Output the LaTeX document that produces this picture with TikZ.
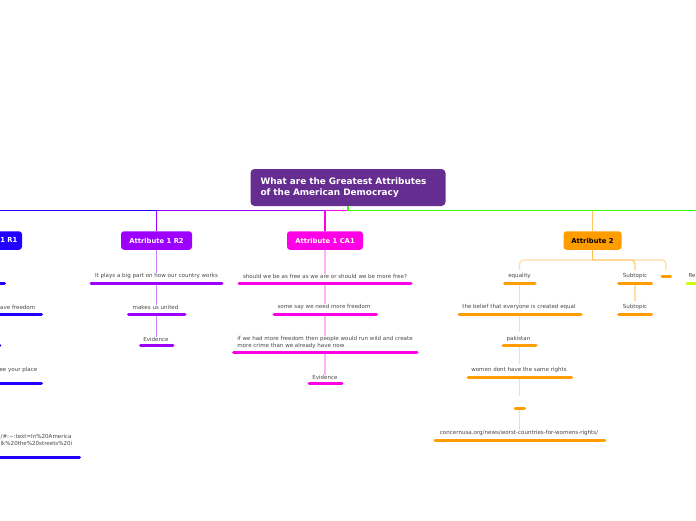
\documentclass[tikz,border=0pt]{standalone}
\usepackage{fontspec}
\setmainfont{DejaVu Sans}
\definecolor{cmain}{HTML}{662D91}
\definecolor{cblue}{HTML}{2200FF}
\definecolor{cpurple}{HTML}{9D00FF}
\definecolor{cmag}{HTML}{FF00E6}
\definecolor{corange}{HTML}{FF9D00}
\definecolor{cgreen}{HTML}{33FF00}
\definecolor{clime}{HTML}{CCFF00}
\tikzset{
  mainbox/.style={draw=none,fill=cmain,rounded corners=4pt,minimum width=195pt,minimum height=37pt,text=white,font=\bfseries\fontsize{8.9}{11.2}\selectfont,align=left,text width=175pt},
  attr/.style={rounded corners=3pt,minimum height=18.5pt,font=\bfseries\fontsize{6.8}{8}\selectfont,inner sep=0pt},
  lbl/.style={font=\fontsize{5.55}{6.7}\selectfont,text=black!72,inner sep=0pt},
  bar/.style={line width=3pt,line cap=round},
  lnk/.style={line width=1.3pt},
  top/.style={line width=1.1pt},
}
\begin{document}
\begin{tikzpicture}[x=1pt,y=-1pt]
\useasboundingbox (0,0) rectangle (696,520);
\clip (0,0) rectangle (696,520);
% hub
\node[mainbox] (root) at (348,187.5) {What are the Greatest Attributes\\of the American Democracy};
\coordinate (j) at (348,210.5);
\coordinate (lend) at (0,210.5);
\coordinate (rend) at (696,210.5);
\coordinate (j2) at (325,210.5);
\coordinate (j3) at (156.5,210.5);
\coordinate (j4) at (592.5,210.5);
% attribute boxes
\node[attr,fill=cblue,minimum width=71pt] (a1) at (-13.5,240.5) {};
\node[attr,text=white,anchor=west,minimum height=0pt] (a1t) at (0.2,240.5) {1 R1};
\node[attr,fill=cpurple,text=white,minimum width=71pt] (a2) at (156.5,240.5) {Attribute 1 R2};
\node[attr,fill=cmag,text=white,minimum width=76pt] (a3) at (325,240.5) {Attribute 1 CA1};
\node[attr,fill=corange,text=black,minimum width=58pt] (a4) at (592.5,240.5) {Attribute 2};
% top lines
\draw[top,cgreen] (j) -- (rend);
\draw[top,cblue] (lend) -- (j3);
\draw[top,cpurple] (j3) -- (j2);
\draw[top,cmag] (j2) -- (j);
\draw[top,cgreen] (root.south) -- (j);
\draw[top,cpurple] (j3) -- (j3 |- a2.north);
\draw[top,cmag] (j2) -- (j2 |- a3.north);
\draw[lnk,corange!60] (j4) -- (j4 |- a4.north);
% R2 column
\coordinate (b2a) at (156.5,283); \coordinate (b2b) at (156.5,314); \coordinate (b2c) at (156.5,345.5);
\node[lbl] (t2a) at (156.5,276) {It plays a big part on how our country works};
\node[lbl] (t2b) at (155.5,307) {makes us united};
\node[lbl] (t2c) at (156,339) {Evidence};
\draw[lnk,cpurple!50] (a2.south) -- (a2.south |- t2a.north);
\draw[lnk,cpurple!50] (b2a) -- (b2a |- t2b.north);
\draw[lnk,cpurple!50] (b2b) -- (b2b |- t2c.north);
\draw[bar,cpurple] (91,283) -- (222,283);
\draw[bar,cpurple] (128.5,314) -- (185,314);
\draw[bar,cpurple] (140.5,345.5) -- (173,345.5);
% CA1 column
\node[lbl] (t3a) at (325,276) {should we be as free as we are or should we be more free?};
\node[lbl] (t3b) at (324,307) {some say we need more freedom};
\node[lbl,align=left] (t3c) at (325,342.5) {if we had more freedom then people would run wild and create\\more crime than we already have now};
\node[lbl] (t3d) at (325,377) {Evidence};
\coordinate (b3a) at (325,283); \coordinate (b3b) at (325,314); \coordinate (b3c) at (325,352.5);
\draw[lnk,cmag!30] (a3.south) -- (a3.south |- t3a.north);
\draw[lnk,cmag!30] (b3a) -- (b3a |- t3b.north);
\draw[lnk,cmag!30] (b3b) -- (b3b |- t3c.north);
\draw[lnk,cmag!30] (b3c) -- (b3c |- t3d.north);
\draw[bar,cmag] (239,283) -- (411,283);
\draw[bar,cmag] (274,314) -- (376.5,314);
\draw[bar,cmag] (233.5,352.5) -- (417,352.5);
\draw[bar,cmag] (309,383.5) -- (342,383.5);
% R1 column (cut by the left edge)
\node[lbl,anchor=east] (t1b) at (35.5,307) {ave freedom};
\node[lbl,anchor=east] (t1d) at (37.5,370) {ee your place};
\node[lbl,anchor=west,align=left] (t1e) at (0.5,440) {/\#:\textasciitilde:text=In\%20America\\lk\%20the\%20streets\%20i};
\draw[bar,cblue] (-10,283) -- (4.5,283);
\draw[bar,cblue] (-10,314) -- (41.5,314);
\draw[bar,cblue] (-10,345.5) -- (-0.2,345.5);
\draw[bar,cblue] (-10,383.5) -- (41.5,383.5);
\draw[bar,cblue] (-10,457) -- (79.5,457);
% Attribute 2
\coordinate (j5) at (592.5,260);
\coordinate (ea) at (519.5,283);
\node[lbl] (e1) at (519.5,276) {equality};
\node[lbl] (e2) at (519,307) {the belief that everyone is created equal};
\node[lbl] (e3) at (518.5,339) {pakistan};
\node[lbl] (e4) at (519,370) {women dont have the same rights};
\coordinate (e5) at (519.5,408.5);
\node[lbl] (e6) at (519,433) {concernusa.org/news/worst-countries-for-womens-rights/};
\node[lbl] (s1) at (635,276) {Subtopic};
\node[lbl] (s2) at (635,307) {Subtopic};
\coordinate (x1) at (666,270);
\begin{scope}[lnk,corange!35]
\draw[rounded corners=4pt] (j5) -- (519.5,260) -- (519.5,270);
\draw[rounded corners=4pt] (j5) -- (666,260) -- (x1);
\draw[corange!50,rounded corners=4pt] (j5) -- (635,260) -- (635,270);
\draw (ea) -- (ea |- e2.north);
\draw (519.5,314) -- (519.5,332);
\draw (519.5,345.5) -- (519.5,364);
\draw (519.5,377) -- (519.5,396);
\draw (e5) -- (e5 |- e6.north);
\draw (635,283) -- (635,301);
\draw[corange!70] (a4.south) -- (j5);
\end{scope}
\draw[bar,corange] (504.5,283) -- (535,283);
\draw[bar,corange] (459,314) -- (581,314);
\draw[bar,corange] (503,345.5) -- (536,345.5);
\draw[bar,corange] (468,377) -- (571.5,377);
\draw[bar,corange] (515,408.5) -- (524.5,408.5);
\draw[bar,corange] (435,440) -- (604.5,440);
\draw[bar,corange] (618.5,283) -- (651.5,283);
\draw[bar,corange] (618.5,314) -- (651.5,314);
\draw[bar,corange] (662,276) -- (670.5,276);
% right edge
\node[lbl,anchor=east] (t5) at (695.8,276) {Re};
\draw[bar,clime] (687,283) -- (705,283);
\end{tikzpicture}
\end{document}
